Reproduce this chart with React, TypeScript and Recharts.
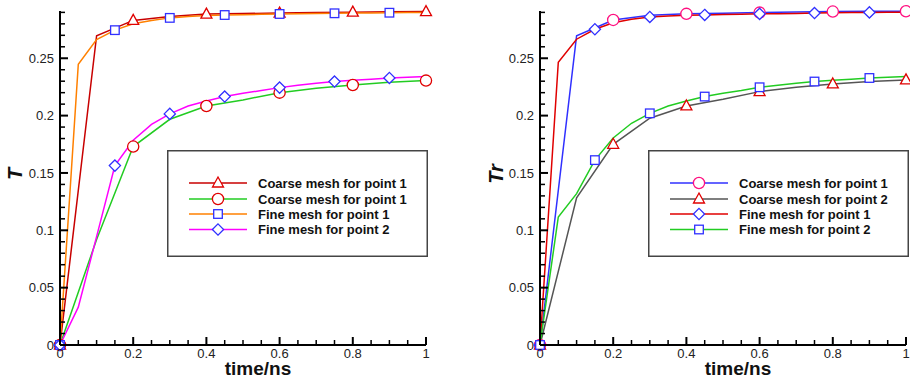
import React from "react";
import { LineChart, Line, XAxis, YAxis, Legend } from "recharts";

// time grids of the two meshes (ns)
const timeCoarse = [0, 0.1, 0.2, 0.3, 0.4, 0.5, 0.6, 0.7, 0.8, 0.9, 1];
const timeFine = [
  0, 0.05, 0.1, 0.15, 0.2, 0.25, 0.3, 0.35, 0.4, 0.45, 0.5, 0.55, 0.6, 0.65, 0.7, 0.75, 0.8,
  0.85, 0.9, 0.95, 1,
];

// left panel: T
const tCoarseP1 = [0, 0.2696, 0.283, 0.2863, 0.2885, 0.289, 0.2894, 0.2898, 0.2902, 0.2905, 0.2907];
const tCoarseP2 = [0, 0.092, 0.173, 0.1968, 0.2084, 0.2137, 0.22, 0.2238, 0.2267, 0.229, 0.2305];
const tFineP1 = [
  0, 0.2448, 0.2662, 0.2745, 0.28, 0.283, 0.2852, 0.2865, 0.2872, 0.2877, 0.288, 0.2883, 0.2886,
  0.2888, 0.289, 0.2892, 0.2894, 0.2895, 0.2897, 0.2898, 0.2899,
];
const tFineP2 = [
  0, 0.033, 0.0945, 0.1564, 0.1785, 0.1924, 0.2015, 0.2084, 0.2128, 0.2166, 0.2195, 0.2218,
  0.2244, 0.2265, 0.2282, 0.2297, 0.2308, 0.2317, 0.2328, 0.2334, 0.234,
];

// right panel: Tr
const trCoarseP1 = [0, 0.2696, 0.2834, 0.2875, 0.2887, 0.2893, 0.2898, 0.2903, 0.2907, 0.2909, 0.291];
const trCoarseP2 = [0, 0.1283, 0.175, 0.1977, 0.2084, 0.2142, 0.2209, 0.2247, 0.2276, 0.2297, 0.2311];
const trFineP1 = [
  0, 0.2465, 0.2666, 0.2753, 0.281, 0.284, 0.286, 0.2868, 0.2874, 0.2878, 0.2881, 0.2884, 0.2887,
  0.2889, 0.2891, 0.2894, 0.2896, 0.2898, 0.29, 0.2901, 0.2902,
];
const trFineP2 = [
  0, 0.1116, 0.132, 0.1612, 0.1805, 0.1933, 0.202, 0.2084, 0.2128, 0.2166, 0.2195, 0.2218, 0.2247,
  0.2265, 0.2282, 0.2297, 0.2308, 0.2317, 0.2328, 0.2334, 0.234,
];

// ticks (minor + major)
const xTicks = [
  0, 0.05, 0.1, 0.15, 0.2, 0.25, 0.3, 0.35, 0.4, 0.45, 0.5, 0.55, 0.6, 0.65, 0.7, 0.75, 0.8,
  0.85, 0.9, 0.95, 1,
];
const xMajor = [0, 0.2, 0.4, 0.6, 0.8, 1];
const yTicks = [
  0, 0.01, 0.02, 0.03, 0.04, 0.05, 0.06, 0.07, 0.08, 0.09, 0.1, 0.11, 0.12, 0.13, 0.14, 0.15,
  0.16, 0.17, 0.18, 0.19, 0.2, 0.21, 0.22, 0.23, 0.24, 0.25, 0.26, 0.27, 0.28, 0.29,
];
const yMajor = [0, 0.05, 0.1, 0.15, 0.2, 0.25];

type Shape = "triangle" | "circle" | "square" | "diamond";
type Series = {
  name: string;
  t: number[];
  v: number[];
  stroke: string;
  marker: Shape;
  markerColor: string;
  every: number;
};

const leftSeries: Series[] = [
  { name: "Coarse mesh for point 1", t: timeCoarse, v: tCoarseP1, stroke: "#c80000", marker: "triangle", markerColor: "#e00000", every: 2 },
  { name: "Coarse mesh for point 1", t: timeCoarse, v: tCoarseP2, stroke: "#22cc22", marker: "circle", markerColor: "#e00000", every: 2 },
  { name: "Fine mesh for point 1", t: timeFine, v: tFineP1, stroke: "#ff8000", marker: "square", markerColor: "#3030ff", every: 3 },
  { name: "Fine mesh for point 2", t: timeFine, v: tFineP2, stroke: "#ff00ff", marker: "diamond", markerColor: "#3030ff", every: 3 },
];

const rightSeries: Series[] = [
  { name: "Coarse mesh for point 1", t: timeCoarse, v: trCoarseP1, stroke: "#3030ff", marker: "circle", markerColor: "#ff1080", every: 2 },
  { name: "Coarse mesh for point 2", t: timeCoarse, v: trCoarseP2, stroke: "#555555", marker: "triangle", markerColor: "#e00000", every: 2 },
  { name: "Fine mesh for point 1", t: timeFine, v: trFineP1, stroke: "#e00000", marker: "diamond", markerColor: "#3030ff", every: 3 },
  { name: "Fine mesh for point 2", t: timeFine, v: trFineP2, stroke: "#22cc22", marker: "square", markerColor: "#3030ff", every: 3 },
];

const FONT = "'Liberation Sans', Arial, sans-serif";
const isIn = (list: number[], v: number) => list.some((m) => Math.abs(m - v) < 1e-6);

function Marker({ shape, cx, cy, color }: { shape: Shape; cx: number; cy: number; color: string }) {
  const common = { fill: "#fff", stroke: color, strokeWidth: 1.3 };
  if (shape === "circle") return <circle cx={cx} cy={cy} r={5.6} {...common} />;
  if (shape === "square") return <rect x={cx - 4.3} y={cy - 4.3} width={8.6} height={8.6} {...common} />;
  if (shape === "diamond")
    return <polygon points={`${cx},${cy - 5.6} ${cx + 5.6},${cy} ${cx},${cy + 5.6} ${cx - 5.6},${cy}`} {...common} />;
  return <polygon points={`${cx},${cy - 6} ${cx + 5.5},${cy + 4} ${cx - 5.5},${cy + 4}`} {...common} />;
}

const makeDot = (s: Series) => (props: any) => {
  const { cx, cy, index } = props;
  if (cx == null || cy == null || index % s.every !== 0) return <g key={`m-${index}`} />;
  return <Marker key={`m-${index}`} shape={s.marker} cx={cx} cy={cy} color={s.markerColor} />;
};

function XTick({ x, y, payload }: any) {
  const major = isIn(xMajor, payload.value);
  return (
    <g>
      <line x1={x} y1={y} x2={x} y2={y - (major ? 8 : 5)} stroke="#000" strokeWidth={major ? 2 : 1.5} />
      {major && (
        <text x={x} y={y + 13} textAnchor="middle" fontSize={13} fontFamily={FONT} fill="#222">
          {String(payload.value)}
        </text>
      )}
    </g>
  );
}

function YTick({ x, y, payload }: any) {
  const major = isIn(yMajor, payload.value);
  return (
    <g>
      <line x1={x} y1={y} x2={x + (major ? 8 : 5)} y2={y} stroke="#000" strokeWidth={major ? 2 : 1.5} />
      {major && (
        <text x={x - 6} y={y + 4.6} textAnchor="end" fontSize={13} fontFamily={FONT} fill="#222">
          {String(Number(payload.value.toFixed(2)))}
        </text>
      )}
    </g>
  );
}

function LegendBox({ series }: { series: Series[] }) {
  const rows = [33, 49, 64, 79.5];
  return (
    <svg width={261} height={107} style={{ display: "block" }}>
      <rect x={0.75} y={0.75} width={259.5} height={105.5} fill="#fff" stroke="#444" strokeWidth={1.5} />
      {series.map((s, i) => (
        <g key={i}>
          <line x1={22} x2={80} y1={rows[i]} y2={rows[i]} stroke={s.stroke} strokeWidth={1.5} />
          <Marker shape={s.marker} cx={51} cy={rows[i]} color={s.markerColor} />
          <text x={91} y={rows[i] + 4.6} fontSize={13} fontWeight="bold" fontFamily={FONT} fill="#111">
            {s.name}
          </text>
        </g>
      ))}
    </svg>
  );
}

type PanelProps = {
  series: Series[];
  yLabel: string;
  left: number;
  yAxisWidth: number;
  marginRight: number;
  legendLeft: number;
  yLabelX: number;
};

function Panel({ series, yLabel, left, yAxisWidth, marginRight, legendLeft, yLabelX }: PanelProps) {
  return (
    <div style={{ position: "absolute", left, top: 0 }}>
      <LineChart width={455} height={383} margin={{ top: 11, right: marginRight, bottom: 0, left: 0 }}>
        <XAxis
          dataKey="t"
          type="number"
          domain={[0, 1]}
          ticks={xTicks}
          interval={0}
          height={38}
          tickSize={0}
          tickMargin={0}
          tickLine={false}
          axisLine={{ stroke: "#000", strokeWidth: 2 }}
          tick={<XTick />}
          label={(p: any) => {
            const vb = p.viewBox;
            return (
              <text
                x={vb.x + vb.width / 2 + 15}
                y={vb.y + 30}
                textAnchor="middle"
                fontSize={19}
                fontWeight="bold"
                fontFamily={FONT}
                fill="#111"
              >
                time/ns
              </text>
            );
          }}
        />
        <YAxis
          type="number"
          domain={[0, 0.2912]}
          ticks={yTicks}
          interval={0}
          width={yAxisWidth}
          tickSize={0}
          tickMargin={0}
          tickLine={false}
          axisLine={{ stroke: "#000", strokeWidth: 2 }}
          tick={<YTick />}
          label={() => (
            <text
              x={yLabelX}
              y={174}
              transform={`rotate(-90, ${yLabelX}, 174)`}
              textAnchor="middle"
              fontSize={20}
              fontWeight="bold"
              fontStyle="italic"
              fontFamily={FONT}
              fill="#111"
            >
              {yLabel}
            </text>
          )}
        />
        <Legend
          layout="vertical"
          align="center"
          verticalAlign="middle"
          wrapperStyle={{ left: legendLeft, top: 150, width: 261, height: 107 }}
          content={() => <LegendBox series={series} />}
        />
        {series.map((s, i) => (
          <Line
            key={i}
            data={s.t.map((t, j) => ({ t, v: s.v[j] }))}
            dataKey="v"
            name={s.name}
            type="linear"
            stroke={s.stroke}
            strokeWidth={1.5}
            dot={makeDot(s)}
            activeDot={false}
            isAnimationActive={false}
          />
        ))}
      </LineChart>
    </div>
  );
}

export default function App() {
  return (
    <div style={{ position: "absolute", left: 0, top: 0, width: 910, height: 383, background: "#fff", overflow: "hidden" }}>
      <Panel series={leftSeries} yLabel="T" left={0} yAxisWidth={60} marginRight={29} legendLeft={167} yLabelX={21.5} />
      <Panel series={rightSeries} yLabel="Tr" left={455} yAxisWidth={85} marginRight={4} legendLeft={193} yLabelX={48} />
    </div>
  );
}
